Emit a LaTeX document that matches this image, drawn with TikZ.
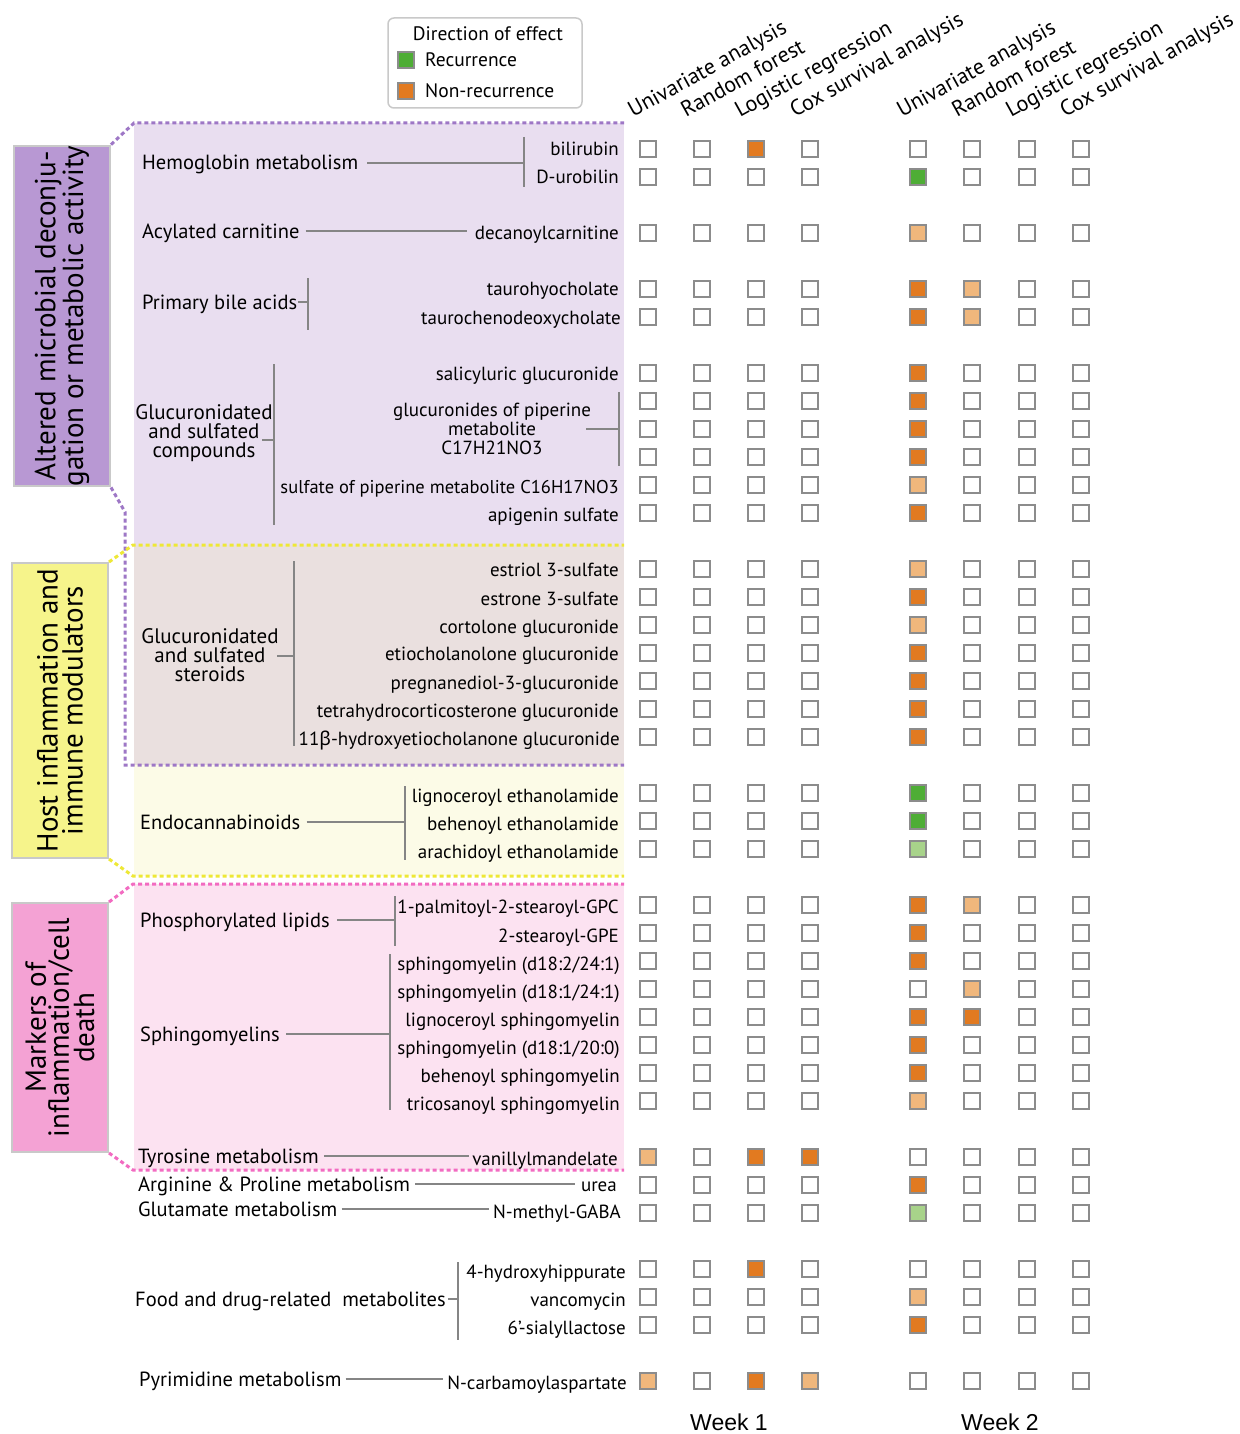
\documentclass[tikz,border=0pt]{standalone}
\usepackage{fontspec}
\setmainfont{PT Sans}
\newfontfamily\weekfont{Liberation Sans}
\newfontfamily\greekfont{Noto Sans}
\definecolor{cO}{HTML}{E27A20}
\definecolor{cL}{HTML}{F0B77C}
\definecolor{cG}{HTML}{4EAD35}
\definecolor{cH}{HTML}{A8D38A}
\colorlet{cw}{white}
\definecolor{boxgray}{HTML}{8C8C8C}
\definecolor{linegray}{HTML}{858585}
\definecolor{purpfill}{HTML}{E9DEF0}
\definecolor{brownfill}{HTML}{EAE0DF}
\definecolor{yelfill}{HTML}{FCFBE7}
\definecolor{pinkfill}{HTML}{FCE2F1}
\definecolor{purpdash}{HTML}{9E77C6}
\definecolor{yeldash}{HTML}{EEE836}
\definecolor{pinkdash}{HTML}{F26BC1}
\definecolor{purpbox}{HTML}{B898D3}
\definecolor{yelbox}{HTML}{F6F48B}
\definecolor{pinkbox}{HTML}{F4A2D4}
\definecolor{catborder}{HTML}{C9C9C9}
\newcommand\mfont{\fontsize{19}{19}\selectfont}
\newcommand\cfont{\fontsize{20.5}{19}\selectfont}
\newcommand\cellrow[3]{%
  \foreach \cc [count=\ii] in {#3}{%
    \pgfmathsetmacro\xx{{648,702,756,810,918,972,1027,1081}[\ii-1]}%
    \node[cellbox, fill=c\cc] (#1-\ii) at (\xx,#2) {};
  }}
\begin{document}
\begin{tikzpicture}[x=1pt,y=-1pt,
  cellbox/.style={draw=boxgray, line width=1.6pt, minimum size=16pt, inner sep=0pt},
  met/.style={anchor=east, inner sep=0pt, text height=14pt, text depth=0pt, font=\mfont},
  cat/.style={anchor=west, inner sep=0pt, text height=14pt, text depth=0pt, font=\cfont},
  catm/.style={inner sep=0pt, font=\fontsize{21}{19}\selectfont, align=center},
  pipm/.style={inner sep=0pt, font=\mfont, align=center},
  conn/.style={draw=linegray, line width=1.6pt},
  hdr/.style={rotate=29, anchor=base west, inner sep=0pt, font=\fontsize{22}{22}\selectfont},
  catbox/.style={draw=catborder, line width=2pt, rotate=90, align=center, inner sep=0pt, font=\fontsize{29}{25}\selectfont},
  pdash/.style={draw=purpdash, line width=3pt, dash pattern=on 4pt off 3pt},
  ydash/.style={draw=yeldash, line width=3pt, dash pattern=on 4pt off 3pt},
  kdash/.style={draw=pinkdash, line width=3pt, dash pattern=on 4pt off 3pt},
  weeklab/.style={font=\weekfont\fontsize{23}{23}\selectfont, inner sep=0pt}]
\useasboundingbox (0,0) rectangle (1239,1434);
\fill[white] (0,0) rectangle (1239,1434);
% region fills
\fill[purpfill] (134,123) rectangle (624,545);
\fill[brownfill] (134,545) rectangle (624,765);
\fill[yelfill] (134,765) rectangle (624,876);
\fill[pinkfill] (134,884) rectangle (624,1170);
% category boxes
\node[catbox, fill=purpbox, minimum width=340pt, minimum height=96pt] (boxA) at (62,316) {Altered microbial deconju-\\gation or metabolic activity};
\node[catbox, fill=yelbox, minimum width=295pt, minimum height=96pt] (boxB) at (60,710.5) {Host inflammation and\\immune modulators};
\node[catbox, fill=pinkbox, minimum width=249pt, minimum height=96pt, font=\fontsize{29}{23}\selectfont] (boxC) at (60,1027.5) {Markers of\\inflammation/cell\\death};
% dashed outlines
\draw[pdash] (boxA.south east) -- (134,123) -- (624,123);
\draw[pdash] (boxA.south west) -- (125,512) -- (125,765) -- (624,765);
\draw[ydash] (boxB.south east) -- (133,545) -- (624,545);
\draw[ydash] (boxB.south west) -- (133,876) -- (624,876);
\draw[kdash] (boxC.south east) -- (133,884) -- (624,884);
\draw[kdash] (boxC.south west) -- (133,1170) -- (624,1170);
% legend
\node[draw=catborder, line width=1.5pt, rounded corners=6pt, minimum width=194pt, minimum height=90pt, inner sep=0pt] (legend) at (485,63) {};
\node[inner sep=0pt, text height=14pt, text depth=0pt, font=\fontsize{19.5}{19}\selectfont] (legtitle) at (488,34) {Direction of effect};
\node[cellbox, fill=cG] (legG) at (406,60) {};
\node[cat, font=\fontsize{19.5}{19}\selectfont] (legGt) at (425,60) {Recurrence};
\node[cellbox, fill=cO] (legO) at (406,91) {};
\node[cat, font=\fontsize{19.5}{19}\selectfont] (legOt) at (425,91) {Non-recurrence};
% headers
\node[hdr] (h1) at (633,118) {Univariate analysis};
\node[hdr] (h2) at (686,118) {Random forest};
\node[hdr] (h3) at (740,118) {Logistic regression};
\node[hdr] (h4) at (795,118) {Cox survival analysis};
\node[hdr] (h5) at (902,118) {Univariate analysis};
\node[hdr] (h6) at (957,118) {Random forest};
\node[hdr] (h7) at (1011,118) {Logistic regression};
\node[hdr] (h8) at (1065,118) {Cox survival analysis};
\node[weeklab] (wk1) at (729,1422) {Week 1};
\node[weeklab] (wk2) at (1000,1422) {Week 2};
% cells
\cellrow{r0}{149}{w,w,O,w,w,w,w,w}
\cellrow{r1}{177}{w,w,w,w,G,w,w,w}
\cellrow{r3}{233}{w,w,w,w,L,w,w,w}
\cellrow{r5}{289}{w,w,w,w,O,L,w,w}
\cellrow{r6}{317}{w,w,w,w,O,L,w,w}
\cellrow{r8}{373}{w,w,w,w,O,w,w,w}
\cellrow{r9}{401}{w,w,w,w,O,w,w,w}
\cellrow{r10}{429}{w,w,w,w,O,w,w,w}
\cellrow{r11}{457}{w,w,w,w,O,w,w,w}
\cellrow{r12}{485}{w,w,w,w,L,w,w,w}
\cellrow{r13}{513}{w,w,w,w,O,w,w,w}
\cellrow{r15}{569}{w,w,w,w,L,w,w,w}
\cellrow{r16}{597}{w,w,w,w,O,w,w,w}
\cellrow{r17}{625}{w,w,w,w,L,w,w,w}
\cellrow{r18}{653}{w,w,w,w,O,w,w,w}
\cellrow{r19}{681}{w,w,w,w,O,w,w,w}
\cellrow{r20}{709}{w,w,w,w,O,w,w,w}
\cellrow{r21}{737}{w,w,w,w,O,w,w,w}
\cellrow{r23}{793}{w,w,w,w,G,w,w,w}
\cellrow{r24}{821}{w,w,w,w,G,w,w,w}
\cellrow{r25}{849}{w,w,w,w,H,w,w,w}
\cellrow{r27}{905}{w,w,w,w,O,L,w,w}
\cellrow{r28}{933}{w,w,w,w,O,w,w,w}
\cellrow{r29}{961}{w,w,w,w,O,w,w,w}
\cellrow{r30}{989}{w,w,w,w,w,L,w,w}
\cellrow{r31}{1017}{w,w,w,w,O,O,w,w}
\cellrow{r32}{1045}{w,w,w,w,O,w,w,w}
\cellrow{r33}{1073}{w,w,w,w,O,w,w,w}
\cellrow{r34}{1101}{w,w,w,w,L,w,w,w}
\cellrow{r36}{1157}{L,w,O,O,w,w,w,w}
\cellrow{r37}{1185}{w,w,w,w,O,w,w,w}
\cellrow{r38}{1213}{w,w,w,w,H,w,w,w}
\cellrow{r40}{1269}{w,w,O,w,w,w,w,w}
\cellrow{r41}{1297}{w,w,w,w,L,w,w,w}
\cellrow{r42}{1325}{w,w,w,w,O,w,w,w}
\cellrow{r44}{1381}{L,w,O,L,w,w,w,w}
% metabolites
\node[met] (bili) at (619,149) {bilirubin};
\node[met] (urob) at (619,177) {D-urobilin};
\node[met] (decan) at (619,232) {decanoylcarnitine};
\node[met] (tauh) at (619,288) {taurohyocholate};
\node[met] (tauc) at (621,317) {taurochenodeoxycholate};
\node[met] (salic) at (619,373) {salicyluric glucuronide};
\node[pipm] (piper) at (492,429) {glucuronides of piperine\\metabolite\\C17H21NO3};
\node[met, font=\fontsize{18.5}{19}\selectfont] (sulfp) at (619,486) {sulfate of piperine metabolite C16H17NO3};
\node[met] (apig) at (619,514) {apigenin sulfate};
\node[met] (estriol) at (619,569) {estriol 3-sulfate};
\node[met] (estrone) at (619,598) {estrone 3-sulfate};
\node[met] (cortol) at (619,626) {cortolone glucuronide};
\node[met] (etioc) at (619,653) {etiocholanolone glucuronide};
\node[met] (pregn) at (619,682) {pregnanediol-3-glucuronide};
\node[met] (tetra) at (619,710) {tetrahydrocorticosterone glucuronide};
\node[met] (hydrox) at (620,738) {11{\greekfont β}-hydroxyetiocholanone glucuronide};
\node[met] (lignoe) at (619,795) {lignoceroyl ethanolamide};
\node[met] (beheno) at (619,823) {behenoyl ethanolamide};
\node[met] (arach) at (619,851) {arachidoyl ethanolamide};
\node[met] (palm) at (619,906) {1-palmitoyl-2-stearoyl-GPC};
\node[met] (gpe) at (619,935) {2-stearoyl-GPE};
\node[met] (sm1) at (620,963) {sphingomyelin (d18:2/24:1)};
\node[met] (sm2) at (620,991) {sphingomyelin (d18:1/24:1)};
\node[met] (sm3) at (620,1019) {lignoceroyl sphingomyelin};
\node[met] (sm4) at (620,1047) {sphingomyelin (d18:1/20:0)};
\node[met] (sm5) at (620,1075) {behenoyl sphingomyelin};
\node[met] (sm6) at (620,1103) {tricosanoyl sphingomyelin};
\node[met] (vanil) at (618,1158) {vanillylmandelate};
\node[met] (urea) at (617,1184) {urea};
\node[met] (gaba) at (621,1211) {N-methyl-GABA};
\node[met] (hipp) at (626,1271) {4-hydroxyhippurate};
\node[met] (vanco) at (626,1299) {vancomycin};
\node[met] (sialyl) at (626,1327) {6’-sialyllactose};
\node[met] (carba) at (627,1382) {N-carbamoylaspartate};
% categories
\node[cat] (hem) at (142,163) {Hemoglobin metabolism};
\node[cat] (acyl) at (142,231) {Acylated carnitine};
\node[cat] (bile) at (142,302) {Primary bile acids};
\node[catm] (gluc) at (204,433) {Glucuronidated\\and sulfated\\compounds};
\node[catm] (ster) at (210,655) {Glucuronidated\\and sulfated\\steroids};
\node[cat] (endo) at (140,822) {Endocannabinoids};
\node[cat] (phos) at (140,920) {Phosphorylated lipids};
\node[cat] (sphi) at (140,1034) {Sphingomyelins};
\node[cat] (tyro) at (138,1156) {Tyrosine metabolism};
\node[cat] (argi) at (138,1184) {Arginine \& Proline metabolism};
\node[cat] (glut) at (138,1209) {Glutamate metabolism};
\node[cat] (food) at (135,1299) {Food and drug-related \ metabolites};
\node[cat] (pyri) at (139,1379) {Pyrimidine metabolism};
% bars
\coordinate (hemT) at (524,137); \coordinate (hemB) at (524,187);
\coordinate (bileT) at (308,278); \coordinate (bileB) at (308,330);
\coordinate (glucT) at (274,364); \coordinate (glucB) at (274,525); \coordinate (glucS) at (262,440);
\coordinate (pipT) at (619,392); \coordinate (pipB) at (619,466); \coordinate (pipS) at (586,429);
\coordinate (sterT) at (294,561); \coordinate (sterB) at (294,746); \coordinate (sterS) at (277,656);
\coordinate (endoT) at (405,786); \coordinate (endoB) at (405,860);
\coordinate (phosT) at (395,896); \coordinate (phosB) at (395,946);
\coordinate (sphiT) at (390,954); \coordinate (sphiB) at (390,1110);
\coordinate (foodT) at (458,1262); \coordinate (foodB) at (458,1340);
\foreach \b in {hem,bile,gluc,pip,ster,endo,phos,sphi,food}{\draw[conn] (\b T) -- (\b B);}
% connectors
\draw[conn] ([xshift=9pt]hem.east) -- (hemT |- hem.east);
\draw[conn] ([xshift=6pt]acyl.east) -- ([xshift=-8pt]decan.west |- acyl.east);
\draw[conn] ([xshift=1pt]bile.east) -- (bileT |- bile.east);
\draw[conn] (glucS) -- (glucT |- glucS);
\draw[conn] (pipS) -- (pipT |- pipS);
\draw[conn] (sterS) -- (sterT |- sterS);
\draw[conn] ([xshift=6pt]endo.east) -- (endoT |- endo.east);
\draw[conn] ([xshift=7pt]phos.east) -- (phosT |- phos.east);
\draw[conn] ([xshift=6pt]sphi.east) -- (sphiT |- sphi.east);
\draw[conn] ([xshift=5pt]tyro.east) -- ([xshift=-3pt]vanil.west |- tyro.east);
\draw[conn] ([xshift=5pt]argi.east) -- ([xshift=-6pt]urea.west |- argi.east);
\draw[conn] ([xshift=4pt]glut.east) -- ([xshift=-4pt]gaba.west |- glut.east);
\draw[conn] ([xshift=2pt]food.east) -- (foodT |- food.east);
\draw[conn] ([xshift=4pt]pyri.east) -- ([xshift=-4pt]carba.west |- pyri.east);
\end{tikzpicture}
\end{document}
